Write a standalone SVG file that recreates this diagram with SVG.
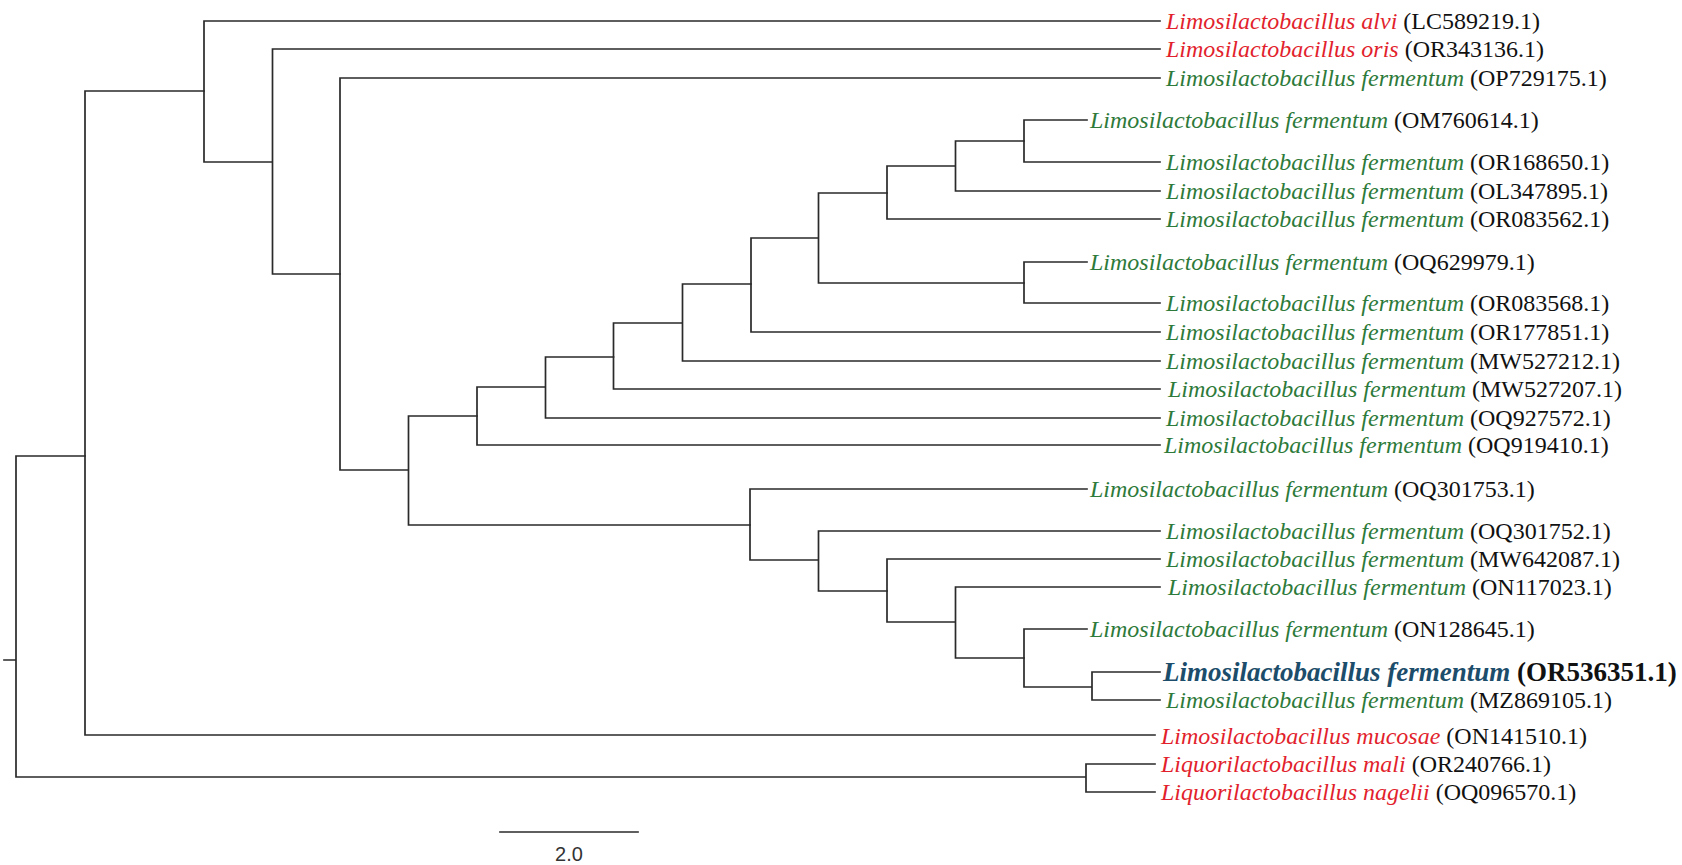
<svg xmlns="http://www.w3.org/2000/svg" width="1682" height="865" viewBox="0 0 1682 865">
<style>
.br{fill:none;stroke:#2a2a2a;stroke-width:1.7;stroke-linecap:square}
.lbl{font-family:"Liberation Serif","Times New Roman",serif;font-size:24px}
.sp{font-style:italic}
.red{fill:#e21f2d}
.grn{fill:#2d7a3a}
.blu{fill:#1c4d6b}
.acc{fill:#111}
.bold{font-size:27px;font-weight:bold}
.scale{font-family:"Liberation Sans",Arial,sans-serif;font-size:20px;fill:#333}
</style>
<rect width="1682" height="865" fill="#fff"/>
<g id="connectors" class="br">
<path d="M4 660H16M16 456V777M16 456H85M16 777H1086M1086 764V792M1086 764H1155M1086 792H1155"/>
<path d="M85 91V735M85 91H204M85 735H1155"/>
<path d="M204 21V162M204 21H1160M204 162H272.5M272.5 49V274M272.5 49H1160M272.5 274H340"/>
<path d="M340 78V470M340 78H1160M340 470H408.5M408.5 416V525M408.5 416H477M408.5 525H750"/>
<path d="M477 387V445M477 445H1160M477 387H545.5M545.5 357V418M545.5 418H1160M545.5 357H613.5"/>
<path d="M613.5 323V389M613.5 389H1160M613.5 323H682.5M682.5 284V361M682.5 361H1160M682.5 284H751"/>
<path d="M751 238V332M751 332H1160M751 238H818.5M818.5 193V283M818.5 193H887M818.5 283H1024"/>
<path d="M887 166V219M887 219H1160M887 166H955.5M955.5 141V191M955.5 191H1160M955.5 141H1024"/>
<path d="M1024 120V162M1024 120H1087M1024 162H1160M1024 262V303M1024 262H1087M1024 303H1160"/>
<path d="M750 489V560M750 489H1087M750 560H818.5M818.5 531V591M818.5 531H1160M818.5 591H887"/>
<path d="M887 559V622M887 559H1160M887 622H955.5M955.5 587V658M955.5 587H1160M955.5 658H1024"/>
<path d="M1024 629V687M1024 629H1087M1024 687H1092M1092 672V700M1092 672H1160M1092 700H1160"/>
</g>
<g id="scalebar">
<path class="br" d="M500 832H638"/>
<text class="scale" x="569" y="861" text-anchor="middle">2.0</text>
</g>
<g id="leaf-LC589219"><text class="lbl" x="1166" y="29"><tspan class="sp red">Limosilactobacillus alvi</tspan><tspan class="acc"> (LC589219.1)</tspan></text></g>
<g id="leaf-OR343136"><text class="lbl" x="1166" y="57"><tspan class="sp red">Limosilactobacillus oris</tspan><tspan class="acc"> (OR343136.1)</tspan></text></g>
<g id="leaf-OP729175"><text class="lbl" x="1166" y="86"><tspan class="sp grn">Limosilactobacillus fermentum</tspan><tspan class="acc"> (OP729175.1)</tspan></text></g>
<g id="leaf-OM760614"><text class="lbl" x="1090" y="128"><tspan class="sp grn">Limosilactobacillus fermentum</tspan><tspan class="acc"> (OM760614.1)</tspan></text></g>
<g id="leaf-OR168650"><text class="lbl" x="1166" y="170"><tspan class="sp grn">Limosilactobacillus fermentum</tspan><tspan class="acc"> (OR168650.1)</tspan></text></g>
<g id="leaf-OL347895"><text class="lbl" x="1166" y="199"><tspan class="sp grn">Limosilactobacillus fermentum</tspan><tspan class="acc"> (OL347895.1)</tspan></text></g>
<g id="leaf-OR083562"><text class="lbl" x="1166" y="227"><tspan class="sp grn">Limosilactobacillus fermentum</tspan><tspan class="acc"> (OR083562.1)</tspan></text></g>
<g id="leaf-OQ629979"><text class="lbl" x="1090" y="270"><tspan class="sp grn">Limosilactobacillus fermentum</tspan><tspan class="acc"> (OQ629979.1)</tspan></text></g>
<g id="leaf-OR083568"><text class="lbl" x="1166" y="311"><tspan class="sp grn">Limosilactobacillus fermentum</tspan><tspan class="acc"> (OR083568.1)</tspan></text></g>
<g id="leaf-OR177851"><text class="lbl" x="1166" y="340"><tspan class="sp grn">Limosilactobacillus fermentum</tspan><tspan class="acc"> (OR177851.1)</tspan></text></g>
<g id="leaf-MW527212"><text class="lbl" x="1166" y="369"><tspan class="sp grn">Limosilactobacillus fermentum</tspan><tspan class="acc"> (MW527212.1)</tspan></text></g>
<g id="leaf-MW527207"><text class="lbl" x="1168" y="397"><tspan class="sp grn">Limosilactobacillus fermentum</tspan><tspan class="acc"> (MW527207.1)</tspan></text></g>
<g id="leaf-OQ927572"><text class="lbl" x="1166" y="426"><tspan class="sp grn">Limosilactobacillus fermentum</tspan><tspan class="acc"> (OQ927572.1)</tspan></text></g>
<g id="leaf-OQ919410"><text class="lbl" x="1164" y="453"><tspan class="sp grn">Limosilactobacillus fermentum</tspan><tspan class="acc"> (OQ919410.1)</tspan></text></g>
<g id="leaf-OQ301753"><text class="lbl" x="1090" y="497"><tspan class="sp grn">Limosilactobacillus fermentum</tspan><tspan class="acc"> (OQ301753.1)</tspan></text></g>
<g id="leaf-OQ301752"><text class="lbl" x="1166" y="539"><tspan class="sp grn">Limosilactobacillus fermentum</tspan><tspan class="acc"> (OQ301752.1)</tspan></text></g>
<g id="leaf-MW642087"><text class="lbl" x="1166" y="567"><tspan class="sp grn">Limosilactobacillus fermentum</tspan><tspan class="acc"> (MW642087.1)</tspan></text></g>
<g id="leaf-ON117023"><text class="lbl" x="1168" y="595"><tspan class="sp grn">Limosilactobacillus fermentum</tspan><tspan class="acc"> (ON117023.1)</tspan></text></g>
<g id="leaf-ON128645"><text class="lbl" x="1090" y="637"><tspan class="sp grn">Limosilactobacillus fermentum</tspan><tspan class="acc"> (ON128645.1)</tspan></text></g>
<g id="leaf-OR536351"><text class="lbl bold" x="1163" y="681"><tspan class="sp blu">Limosilactobacillus fermentum</tspan><tspan class="acc"> (OR536351.1)</tspan></text></g>
<g id="leaf-MZ869105"><text class="lbl" x="1166" y="708"><tspan class="sp grn">Limosilactobacillus fermentum</tspan><tspan class="acc"> (MZ869105.1)</tspan></text></g>
<g id="leaf-ON141510"><text class="lbl" x="1161" y="744"><tspan class="sp red">Limosilactobacillus mucosae</tspan><tspan class="acc"> (ON141510.1)</tspan></text></g>
<g id="leaf-OR240766"><text class="lbl" x="1161" y="772"><tspan class="sp red">Liquorilactobacillus mali</tspan><tspan class="acc"> (OR240766.1)</tspan></text></g>
<g id="leaf-OQ096570"><text class="lbl" x="1161" y="800"><tspan class="sp red">Liquorilactobacillus nagelii</tspan><tspan class="acc"> (OQ096570.1)</tspan></text></g>
</svg>
